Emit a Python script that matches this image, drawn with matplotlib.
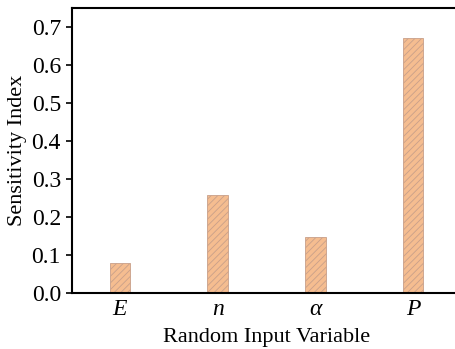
import matplotlib
matplotlib.use("Agg")
from matplotlib import pyplot as plt

variables = ["E", "n", "\u03b1", "P"]
sensitivity = [0.078, 0.257, 0.147, 0.672]
yticks = [0.0, 0.1, 0.2, 0.3, 0.4, 0.5, 0.6, 0.7]

plt.rcParams["font.family"] = ["Liberation Serif", "DejaVu Serif"]
plt.rcParams["hatch.linewidth"] = 0.6
plt.rcParams["hatch.color"] = "#d08a5c"

fig = plt.figure(figsize=(4.56, 3.49), dpi=100)
ax = fig.add_axes([72 / 456, 1 - 293 / 349, (462 - 72) / 456, (293 - 8) / 349])

xs = list(range(len(variables)))
ax.bar(xs, sensitivity, width=0.21, color="#f5bd90", edgecolor="#c8a08a",
       linewidth=0.6, hatch="/////")

ax.set_xlim(-0.49, 3.5)
ax.set_ylim(0, 0.75)
ax.set_yticks(yticks)
ax.set_yticklabels(["%.1f" % v for v in yticks], fontsize=17)
ax.set_xticks(xs)
ax.set_xticklabels(variables, fontsize=17, fontstyle="italic")
ax.tick_params(axis="x", length=0, pad=4)
ax.tick_params(axis="y", direction="out", length=4, width=1.2, pad=4)

for side in ["left", "top", "bottom"]:
    ax.spines[side].set_linewidth(1.5)
ax.spines["right"].set_visible(False)

ax.set_xlabel("Random Input Variable", fontsize=16, labelpad=6)
ax.set_ylabel("Sensitivity Index", fontsize=16, labelpad=3)

fig.savefig("out.png", dpi=100)
